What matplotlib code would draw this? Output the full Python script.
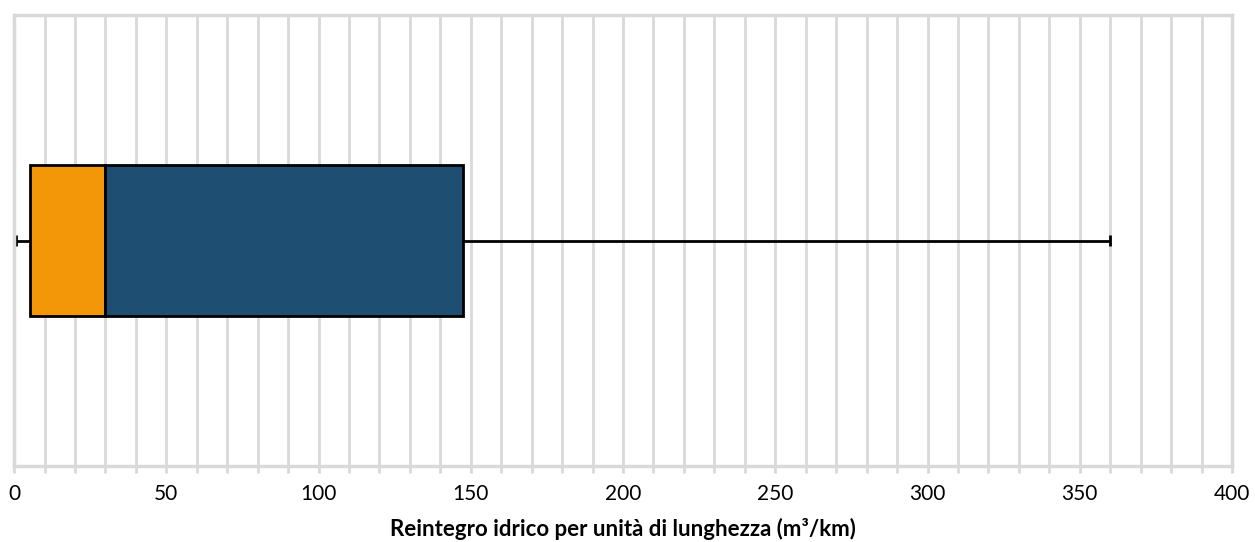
import matplotlib
matplotlib.use("Agg")
import matplotlib.pyplot as plt
import numpy as np

plt.rcParams['font.family'] = ['Lato', 'DejaVu Sans']

# Box statistics (m³/km)
whisker_low = 0.7
q1 = 5.3
median = 29.8
q3 = 147.5
whisker_high = 360.0

x_ticks = [0, 50, 100, 150, 200, 250, 300, 350, 400]
xlabel = "Reintegro idrico per unità di lunghezza (m³/km)"

grid_col = "#d9d9d9"
orange = "#f39608"
blue = "#1f4e73"

fig = plt.figure(figsize=(12.55, 5.42), dpi=100)
ax = fig.add_axes([0.0112, 0.1402, 0.9705, 0.8321])

ax.set_xlim(0, 400)
ax.set_ylim(-1.5, 1.5)

# grid every 10
ax.set_xticks(np.arange(0, 401, 10), minor=True)
ax.set_xticks(x_ticks)
ax.set_xticklabels([str(t) for t in x_ticks])
ax.grid(True, axis='x', which='both', color=grid_col, linewidth=2, zorder=0)
ax.set_axisbelow(True)
ax.tick_params(axis='x', which='both', color=grid_col, width=2, length=5, labelsize=15, pad=8)
ax.tick_params(axis='y', left=False, labelleft=False)
for s in ax.spines.values():
    s.set_color(grid_col)
    s.set_linewidth(2.5)

# whiskers
ax.hlines(0, whisker_low, q1, color='black', linewidth=2, zorder=2)
ax.hlines(0, q3, whisker_high, color='black', linewidth=2, zorder=2)
ax.vlines([whisker_low, whisker_high], -0.037, 0.037, color='black', linewidth=2, zorder=2)

# box
ax.barh(0, median - q1, left=q1, height=1.0, color=orange, edgecolor='black', linewidth=2, zorder=3)
ax.barh(0, q3 - median, left=median, height=1.0, color=blue, edgecolor='black', linewidth=2, zorder=3)

ax.set_xlabel(xlabel, fontsize=16, fontweight='bold', labelpad=10)

fig.savefig("out.png", dpi=100)
